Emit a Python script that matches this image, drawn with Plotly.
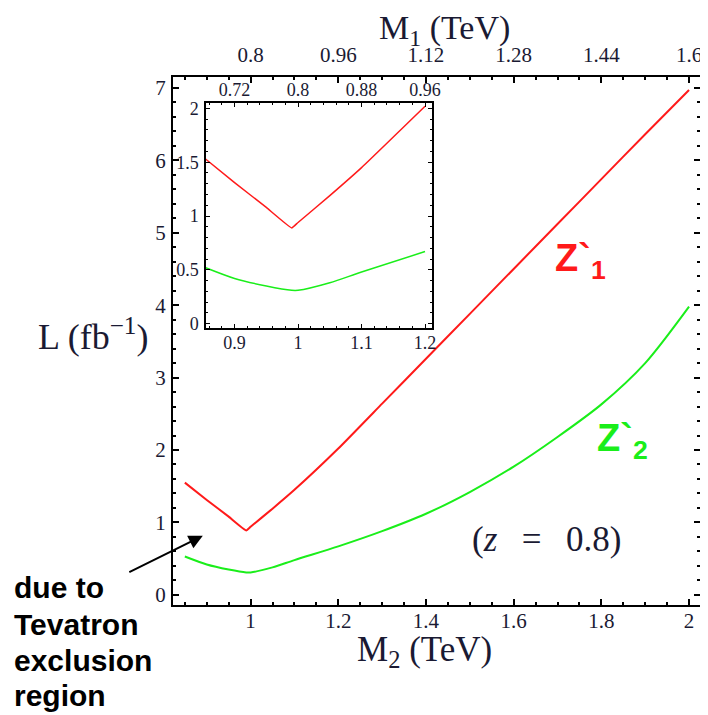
import plotly.graph_objects as go

# ---- data ----
m2 = [0.85, 0.9, 0.95, 0.99, 1.0, 1.05, 1.1, 1.2, 1.3, 1.4, 1.5, 1.6, 1.7, 1.8, 1.9, 2.0]
lum_z1 = [1.55, 1.31, 1.08, 0.89, 0.94, 1.19, 1.45, 2.02, 2.64, 3.26, 3.88, 4.50, 5.12, 5.74, 6.36, 6.97]
lum_z2 = [0.53, 0.42, 0.35, 0.31, 0.31, 0.38, 0.48, 0.67, 0.88, 1.12, 1.42, 1.77, 2.18, 2.63, 3.20, 3.98]

top_tickvals = [1.0, 1.2, 1.4, 1.6, 1.8, 2.0]
top_ticktext = ["0.8", "0.96", "1.12", "1.28", "1.44", "1.6"]
inset_top_tickvals = [0.9, 1.0, 1.1, 1.2]
inset_top_ticktext = ["0.72", "0.8", "0.88", "0.96"]
inset_mask_max = 1.21
note_lines = ["due to", "Tevatron", "exclusion", "region"]

RED = "#ff1a1a"
GREEN = "#1aee1a"
SERIF = "Liberation Serif"
SANS = "Liberation Sans"
TXT = "#1a1a33"

inset_x = [x for x in m2 if x <= inset_mask_max]
inset_z1 = [v for x, v in zip(m2, lum_z1) if x <= inset_mask_max]
inset_z2 = [v for x, v in zip(m2, lum_z2) if x <= inset_mask_max]

fig = go.Figure()
fig.add_trace(go.Scatter(x=m2, y=lum_z1, mode="lines", line=dict(color=RED, width=2, shape="spline", smoothing=0.4),
                         xaxis="x", yaxis="y", showlegend=False))
fig.add_trace(go.Scatter(x=m2, y=lum_z2, mode="lines", line=dict(color=GREEN, width=2, shape="spline", smoothing=0.8),
                         xaxis="x", yaxis="y", showlegend=False))
fig.add_trace(go.Scatter(x=[1.0], y=[0], mode="markers", marker=dict(opacity=0), xaxis="x2", yaxis="y",
                         showlegend=False, hoverinfo="skip"))
fig.add_trace(go.Scatter(x=inset_x, y=inset_z1, mode="lines", line=dict(color=RED, width=1.5, shape="spline", smoothing=0.3),
                         xaxis="x3", yaxis="y3", showlegend=False))
fig.add_trace(go.Scatter(x=inset_x, y=inset_z2, mode="lines", line=dict(color=GREEN, width=1.5, shape="spline", smoothing=0.8),
                         xaxis="x3", yaxis="y3", showlegend=False))
fig.add_trace(go.Scatter(x=[1.0], y=[0], mode="markers", marker=dict(opacity=0), xaxis="x4", yaxis="y3",
                         showlegend=False, hoverinfo="skip"))

tickfont = dict(family=SERIF, size=21, color=TXT)
insetfont = dict(family=SERIF, size=18, color=TXT)

xr = [0.823, 2.025]
fig.update_layout(
    width=700, height=707,
    margin=dict(l=165, r=8, t=69, b=110, autoexpand=False),
    paper_bgcolor="white", plot_bgcolor="white",
    xaxis=dict(domain=[0, 1], range=xr, showgrid=False, zeroline=False, automargin=False,
               showline=True, linecolor="black", linewidth=2, mirror=True,
               ticks="inside", ticklen=6, tickcolor="black", tickwidth=1.5,
               dtick=0.2, tick0=1.0, tickfont=tickfont, ticklabelstandoff=-4,
               minor=dict(dtick=0.05, tick0=1.0, ticks="inside", ticklen=3, tickcolor="black", showgrid=False)),
    xaxis2=dict(overlaying="x", side="top", range=xr, showgrid=False, zeroline=False, automargin=False,
                showline=False, ticks="inside", ticklen=6, tickcolor="black", tickwidth=1.5,
                tickvals=top_tickvals, ticktext=top_ticktext, tickfont=tickfont, ticklabelstandoff=10,
                anchor="y",
                minor=dict(dtick=0.05, tick0=1.0, ticks="inside", ticklen=3, tickcolor="black", showgrid=False)),
    yaxis=dict(domain=[0, 1], range=[-0.14, 7.15], showgrid=False, zeroline=False, automargin=False,
               showline=True, linecolor="black", linewidth=2, mirror="ticks",
               ticks="inside", ticklen=6, tickcolor="black", tickwidth=1.5,
               dtick=1, tick0=0, tickfont=tickfont, ticklabelstandoff=1,
               minor=dict(dtick=0.2, tick0=0, ticks="inside", ticklen=3, tickcolor="black", showgrid=False)),
    xaxis3=dict(domain=[0.0626, 0.4915], anchor="y3", range=[0.855, 1.211], showgrid=False, zeroline=False,
                automargin=False,
                showline=True, linecolor="black", linewidth=1.5, mirror=True,
                ticks="inside", ticklen=4, tickcolor="black",
                dtick=0.1, tick0=0.9, tickfont=insetfont, ticklabelstandoff=-2,
                minor=dict(dtick=0.02, tick0=0.9, ticks="inside", ticklen=2, tickcolor="black", showgrid=False)),
    xaxis4=dict(overlaying="x3", side="top", anchor="y3", range=[0.855, 1.211], showgrid=False, zeroline=False,
                automargin=False,
                showline=False, ticks="inside", ticklen=4, tickcolor="black",
                tickvals=inset_top_tickvals, ticktext=inset_top_ticktext, tickfont=insetfont, ticklabelstandoff=2,
                minor=dict(dtick=0.02, tick0=0.9, ticks="inside", ticklen=2, tickcolor="black", showgrid=False)),
    yaxis3=dict(domain=[0.5246, 0.9508], anchor="x3", range=[-0.04, 2.05], showgrid=False, zeroline=False,
                automargin=False,
                showline=True, linecolor="black", linewidth=1.5, mirror="ticks",
                ticks="inside", ticklen=4, tickcolor="black",
                dtick=0.5, tick0=0, tickfont=insetfont, ticklabelstandoff=2,
                minor=dict(dtick=0.1, tick0=0, ticks="inside", ticklen=2, tickcolor="black", showgrid=False)),
)

ann = []
ann.append(dict(xref="paper", yref="paper", x=0.516, y=1.089, text="M<sub>1</sub> (TeV)", showarrow=False,
                font=dict(family=SERIF, size=34, color=TXT), xanchor="center", yanchor="middle"))
ann.append(dict(xref="paper", yref="paper", x=0.478, y=-0.088, text="M<sub>2</sub> (TeV)", showarrow=False,
                font=dict(family=SERIF, size=35, color=TXT), xanchor="center", yanchor="middle"))
ann.append(dict(xref="paper", yref="paper", x=-0.152, y=0.513, text="L (fb<sup>\u22121</sup>)", showarrow=False,
                font=dict(family=SERIF, size=36, color=TXT), xanchor="center", yanchor="middle"))
ann.append(dict(xref="paper", yref="paper", x=0.722, y=0.652, text="<b>Z`<sub>1</sub></b>", showarrow=False,
                font=dict(family=SANS, size=38, color=RED), xanchor="left", yanchor="middle"))
ann.append(dict(xref="paper", yref="paper", x=0.8, y=0.31, text="<b>Z`<sub>2</sub></b>", showarrow=False,
                font=dict(family=SANS, size=38, color=GREEN), xanchor="left", yanchor="middle"))
ann.append(dict(xref="paper", yref="paper", x=0.564, y=0.125,
                text="(<i>z</i>\u2002\u2009=\u2002\u20090.8)", showarrow=False,
                font=dict(family=SERIF, size=35, color=TXT), xanchor="left", yanchor="middle"))
note_y_px = [587, 624, 660, 695]
for line, ypx in zip(note_lines, note_y_px):
    ann.append(dict(xref="paper", yref="paper", x=-0.3055, y=(605 - ypx) / 528, text="<b>" + line + "</b>",
                    showarrow=False, align="left", font=dict(family=SANS, size=30, color="black"),
                    xanchor="left", yanchor="middle"))
ann.append(dict(xref="x", yref="y", x=0.891, y=0.815, ax=-75, ay=37, text="", showarrow=True,
                arrowhead=2, arrowsize=1.4, arrowwidth=2, arrowcolor="black"))
fig.update_layout(annotations=ann)

fig.write_html("out.html")
